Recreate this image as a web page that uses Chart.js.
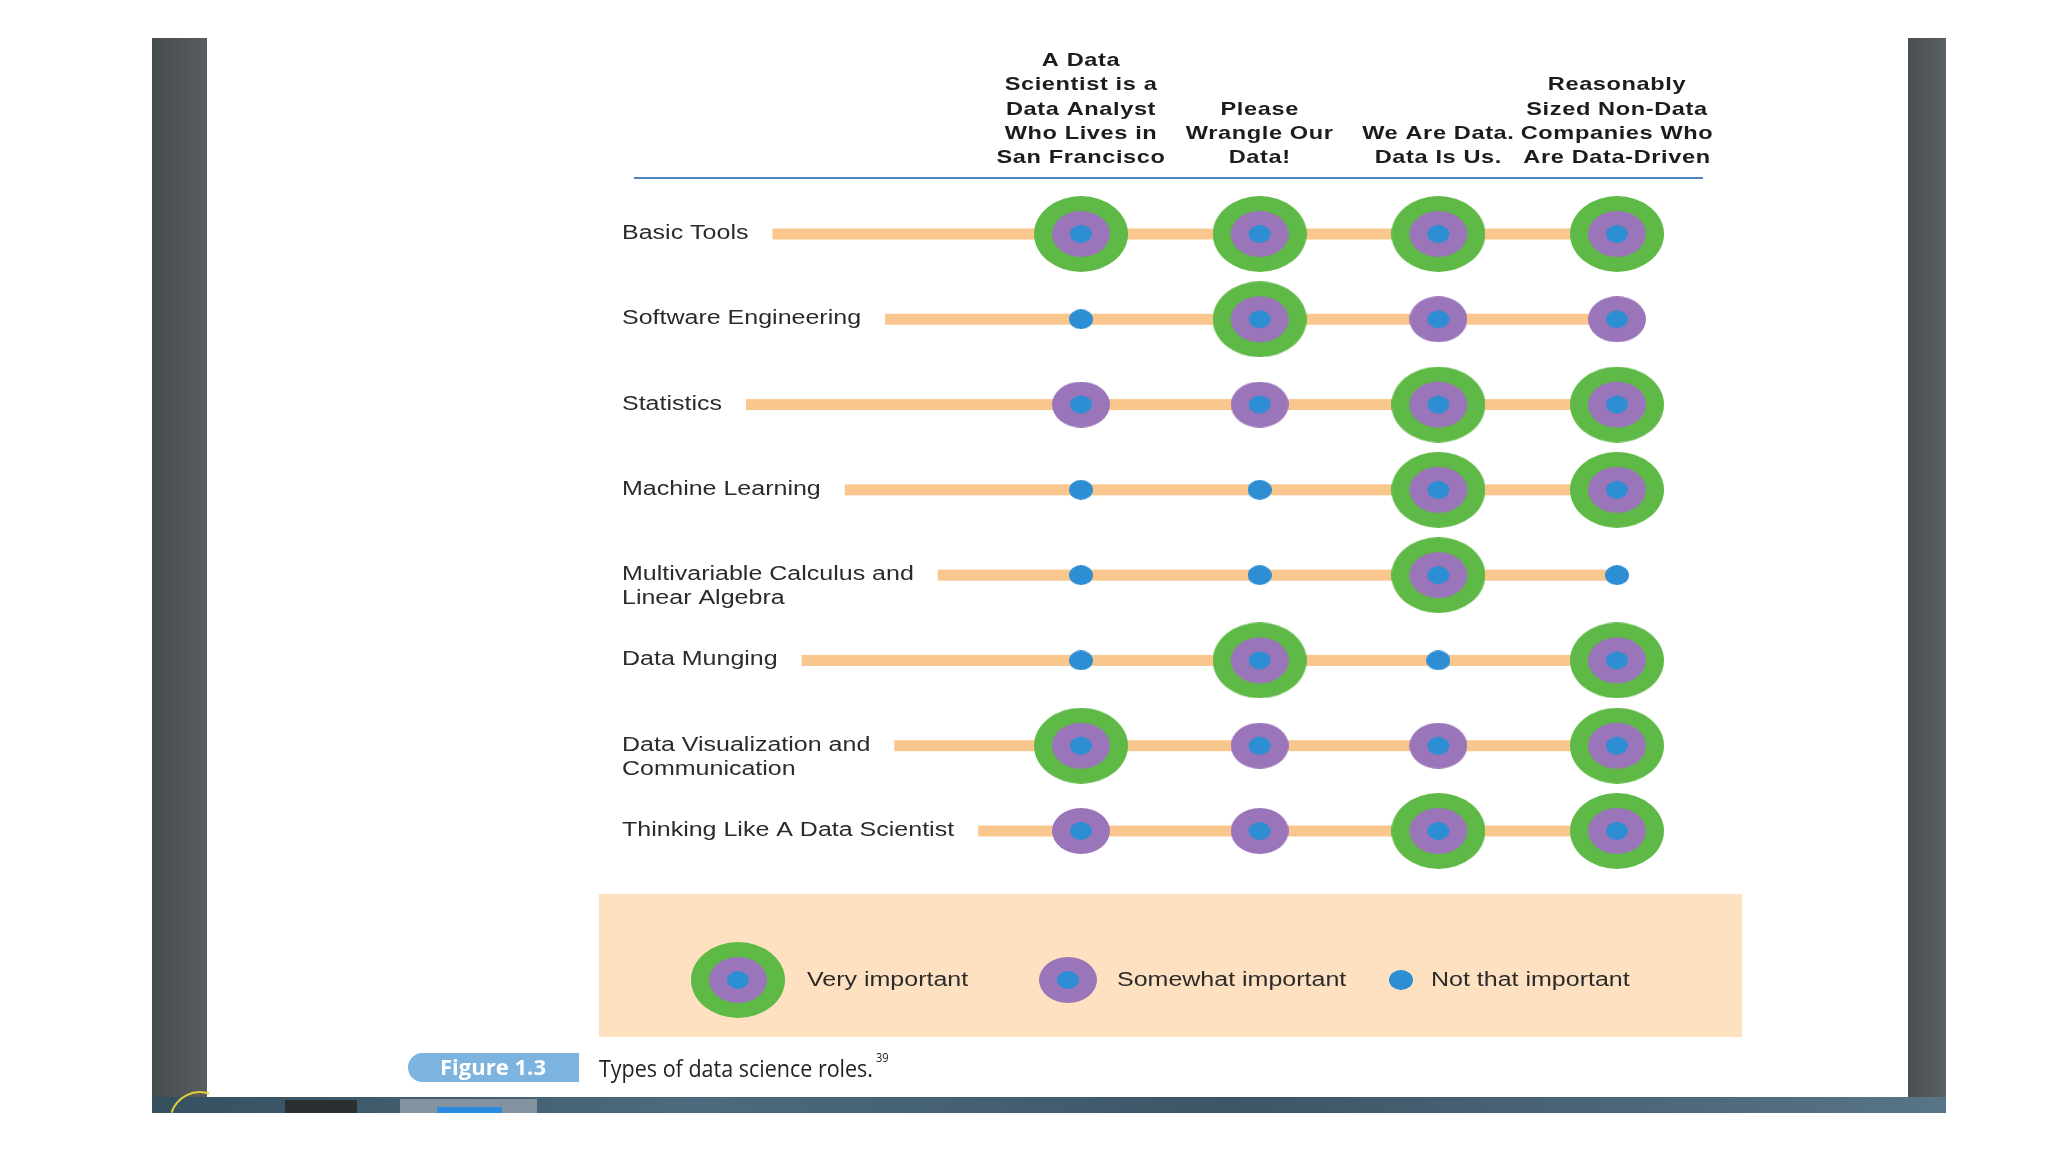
<!DOCTYPE html>
<html>
<head>
<meta charset="utf-8">
<script src="https://cdn.jsdelivr.net/npm/chart.js@4.4.1/dist/chart.umd.min.js"></script>
<style>
html, body { margin: 0; padding: 0; background: #fff; overflow: hidden; }
canvas { display: block; }
</style>
</head>
<body>
<canvas id="rolesChart" width="2048" height="1152"></canvas>
<script>
// column headers (the four kinds of data science roles)
const roleNames = [
    ['A Data', 'Scientist is a', 'Data Analyst', 'Who Lives in', 'San Francisco'],
    ['Please', 'Wrangle Our', 'Data!'],
    ['We Are Data.', 'Data Is Us.'],
    ['Reasonably', 'Sized Non-Data', 'Companies Who', 'Are Data-Driven']
];

// row labels
const skills = [
    ['Basic Tools'],
    ['Software Engineering'],
    ['Statistics'],
    ['Machine Learning'],
    ['Multivariable Calculus and', 'Linear Algebra'],
    ['Data Munging'],
    ['Data Visualization and', 'Communication'],
    ['Thinking Like A Data Scientist']
];

// importance per skill for each role: 2 = very, 1 = somewhat, 0 = not that important
const analystInSF = [2, 0, 1, 0, 0, 0, 2, 1];
const wrangleOurData = [2, 2, 1, 0, 0, 2, 1, 1];
const weAreData = [2, 1, 2, 2, 2, 0, 1, 2];
const nonDataCompanies = [2, 1, 2, 2, 0, 2, 2, 2];
const roleColumns = [analystInSF, wrangleOurData, weAreData, nonDataCompanies];

const levelNames = ['Not that important', 'Somewhat important', 'Very important'];

const GREEN = '#5fb946';
const PURPLE = '#9b75ba';
const BLUE = '#2d8ed3';
const ORANGE = '#f9c78d';

// concentric ellipse marker drawn on a small canvas
function makeSymbol(rings) {
    const c = document.createElement('canvas');
    c.width = rings[0][0];
    c.height = rings[0][1];
    const g = c.getContext('2d');
    rings.forEach(([w, h, col]) => {
        g.beginPath();
        g.ellipse(c.width / 2, c.height / 2, w / 2, h / 2, 0, 0, Math.PI * 2);
        g.fillStyle = col;
        g.fill();
    });
    return c;
}

const symbols = [
    makeSymbol([[24, 20, BLUE]]),
    makeSymbol([[58, 46, PURPLE], [22, 18, BLUE]]),
    makeSymbol([[94, 76, GREEN], [58, 46, PURPLE], [22, 18, BLUE]])
];

function pointsFor(level) {
    const pts = [];
    roleColumns.forEach((col, c) => {
        col.forEach((lv, r) => {
            if (lv === level) pts.push({ x: c, y: r });
        });
    });
    return pts;
}

// text drawn a little wider than the font, like the scanned figure
function wideText(ctx, txt, x, y, sx, align) {
    ctx.save();
    ctx.translate(x, y);
    ctx.scale(sx, 1);
    ctx.textAlign = align;
    ctx.fillText(txt, 0, 0);
    ctx.restore();
}

const LABEL_FONT = '20px "Liberation Sans", Arial, sans-serif';
const LABEL_SX = 1.25;

const pagePlugin = {
    id: 'page',
    beforeDraw(chart) {
        const ctx = chart.ctx;
        ctx.save();
        ctx.fillStyle = '#ffffff';
        ctx.fillRect(0, 0, chart.width, chart.height);

        // dark side bars of the viewer
        let g = ctx.createLinearGradient(152, 0, 207, 0);
        g.addColorStop(0, '#474c4f');
        g.addColorStop(1, '#585d60');
        ctx.fillStyle = g;
        ctx.fillRect(152, 38, 55, 1060);
        g = ctx.createLinearGradient(1908, 0, 1946, 0);
        g.addColorStop(0, '#4a4f52');
        g.addColorStop(1, '#5a5f62');
        ctx.fillStyle = g;
        ctx.fillRect(1908, 38, 38, 1060);

        // desktop strip at the bottom
        g = ctx.createLinearGradient(152, 0, 1946, 0);
        g.addColorStop(0, '#35505f');
        g.addColorStop(0.3, '#4d6b7e');
        g.addColorStop(0.6, '#3c5667');
        g.addColorStop(1, '#587487');
        ctx.fillStyle = g;
        ctx.fillRect(152, 1097, 1794, 16);
        ctx.fillStyle = '#2c2f31';
        ctx.fillRect(285, 1100, 72, 13);
        ctx.fillStyle = '#8393a0';
        ctx.fillRect(400, 1099, 137, 14);
        ctx.fillStyle = '#2b8be0';
        ctx.fillRect(437, 1107, 65, 6);
        ctx.strokeStyle = '#e3cf3a';
        ctx.lineWidth = 2;
        ctx.beginPath();
        ctx.arc(200, 1122, 30, Math.PI * 1.1, Math.PI * 1.6);
        ctx.stroke();

        // column headers
        const x = chart.scales.x;
        const top = chart.chartArea.top;
        ctx.fillStyle = '#1c1c1c';
        ctx.font = 'bold 19px "Liberation Sans", Arial, sans-serif';
        ctx.letterSpacing = '0.5px';
        ctx.textBaseline = 'alphabetic';
        roleNames.forEach((lines, c) => {
            const cx = x.getPixelForValue(c);
            lines.forEach((ln, i) => {
                const by = top - 71 - (lines.length - 1 - i) * 24.2;
                wideText(ctx, ln, cx, by, 1.24, 'center');
            });
        });
        ctx.letterSpacing = '0px';

        // rule under the headers
        ctx.strokeStyle = '#4a86bd';
        ctx.lineWidth = 2;
        ctx.beginPath();
        ctx.moveTo(634, top - 56);
        ctx.lineTo(1703, top - 56);
        ctx.stroke();
        ctx.restore();
    },
    beforeDatasetsDraw(chart) {
        const ctx = chart.ctx;
        const x = chart.scales.x;
        const y = chart.scales.y;
        const labelX = 622;
        const endX = x.getPixelForValue(roleColumns.length - 1);
        ctx.save();
        ctx.font = LABEL_FONT;
        ctx.fillStyle = '#2b2b2b';
        ctx.textBaseline = 'alphabetic';
        skills.forEach((lines, r) => {
            const ry = y.getPixelForValue(r);
            lines.forEach((ln, i) => wideText(ctx, ln, labelX, ry + 5 + i * 24, LABEL_SX, 'left'));
            const startX = labelX + ctx.measureText(lines[0]).width * LABEL_SX + 24;
            ctx.fillStyle = ORANGE;
            ctx.fillRect(startX, ry - 5.5, endX - startX, 11);
            ctx.fillStyle = '#2b2b2b';
        });
        ctx.restore();
    },
    afterDraw(chart) {
        const ctx = chart.ctx;
        ctx.save();
        // legend panel
        ctx.fillStyle = '#fde1c1';
        ctx.fillRect(599, 894, 1143, 143);
        const legendSym = [1401, 1068, 738];
        const legendTxt = [1431, 1117, 807];
        ctx.font = LABEL_FONT;
        ctx.fillStyle = '#2b2b2b';
        ctx.textBaseline = 'alphabetic';
        [2, 1, 0].forEach(lv => {
            const s = symbols[lv];
            ctx.drawImage(s, legendSym[lv] - s.width / 2, 980 - s.height / 2);
            wideText(ctx, levelNames[lv], legendTxt[lv], 986, LABEL_SX, 'left');
        });

        // figure caption
        ctx.fillStyle = '#7db3df';
        ctx.beginPath();
        ctx.roundRect(408, 1053, 171, 29, [15, 0, 0, 15]);
        ctx.fill();
        ctx.fillStyle = '#ffffff';
        ctx.font = 'bold 21px "Open Sans", sans-serif';
        let w = ctx.measureText('Figure 1.3').width;
        wideText(ctx, 'Figure 1.3', 493, 1075, 106 / w, 'center');
        ctx.fillStyle = '#222222';
        ctx.font = '24px "Open Sans", sans-serif';
        w = ctx.measureText('Types of data science roles.').width;
        wideText(ctx, 'Types of data science roles.', 599, 1077, 274 / w, 'left');
        ctx.font = '13px "Open Sans", sans-serif';
        wideText(ctx, '39', 876, 1062, 0.85, 'left');
        ctx.restore();
    }
};

const ctx = document.getElementById('rolesChart').getContext('2d');
const rolesChart = new Chart(ctx, {
    type: 'scatter',
    data: {
        datasets: [2, 1, 0].map(lv => ({
            label: levelNames[lv],
            data: pointsFor(lv),
            pointStyle: symbols[lv],
            pointRadius: 10,
            pointHoverRadius: 10,
            clip: false
        }))
    },
    options: {
        responsive: false,
        animation: false,
        devicePixelRatio: 1,
        events: [],
        layout: {
            autoPadding: false,
            padding: { left: 1081, right: 431, top: 234, bottom: 321 }
        },
        scales: {
            x: { type: 'linear', min: 0, max: 3, display: false },
            y: { type: 'linear', min: 0, max: 7, reverse: true, display: false }
        },
        plugins: {
            legend: { display: false },
            tooltip: { enabled: false }
        }
    },
    plugins: [pagePlugin]
});
</script>
</body>
</html>
